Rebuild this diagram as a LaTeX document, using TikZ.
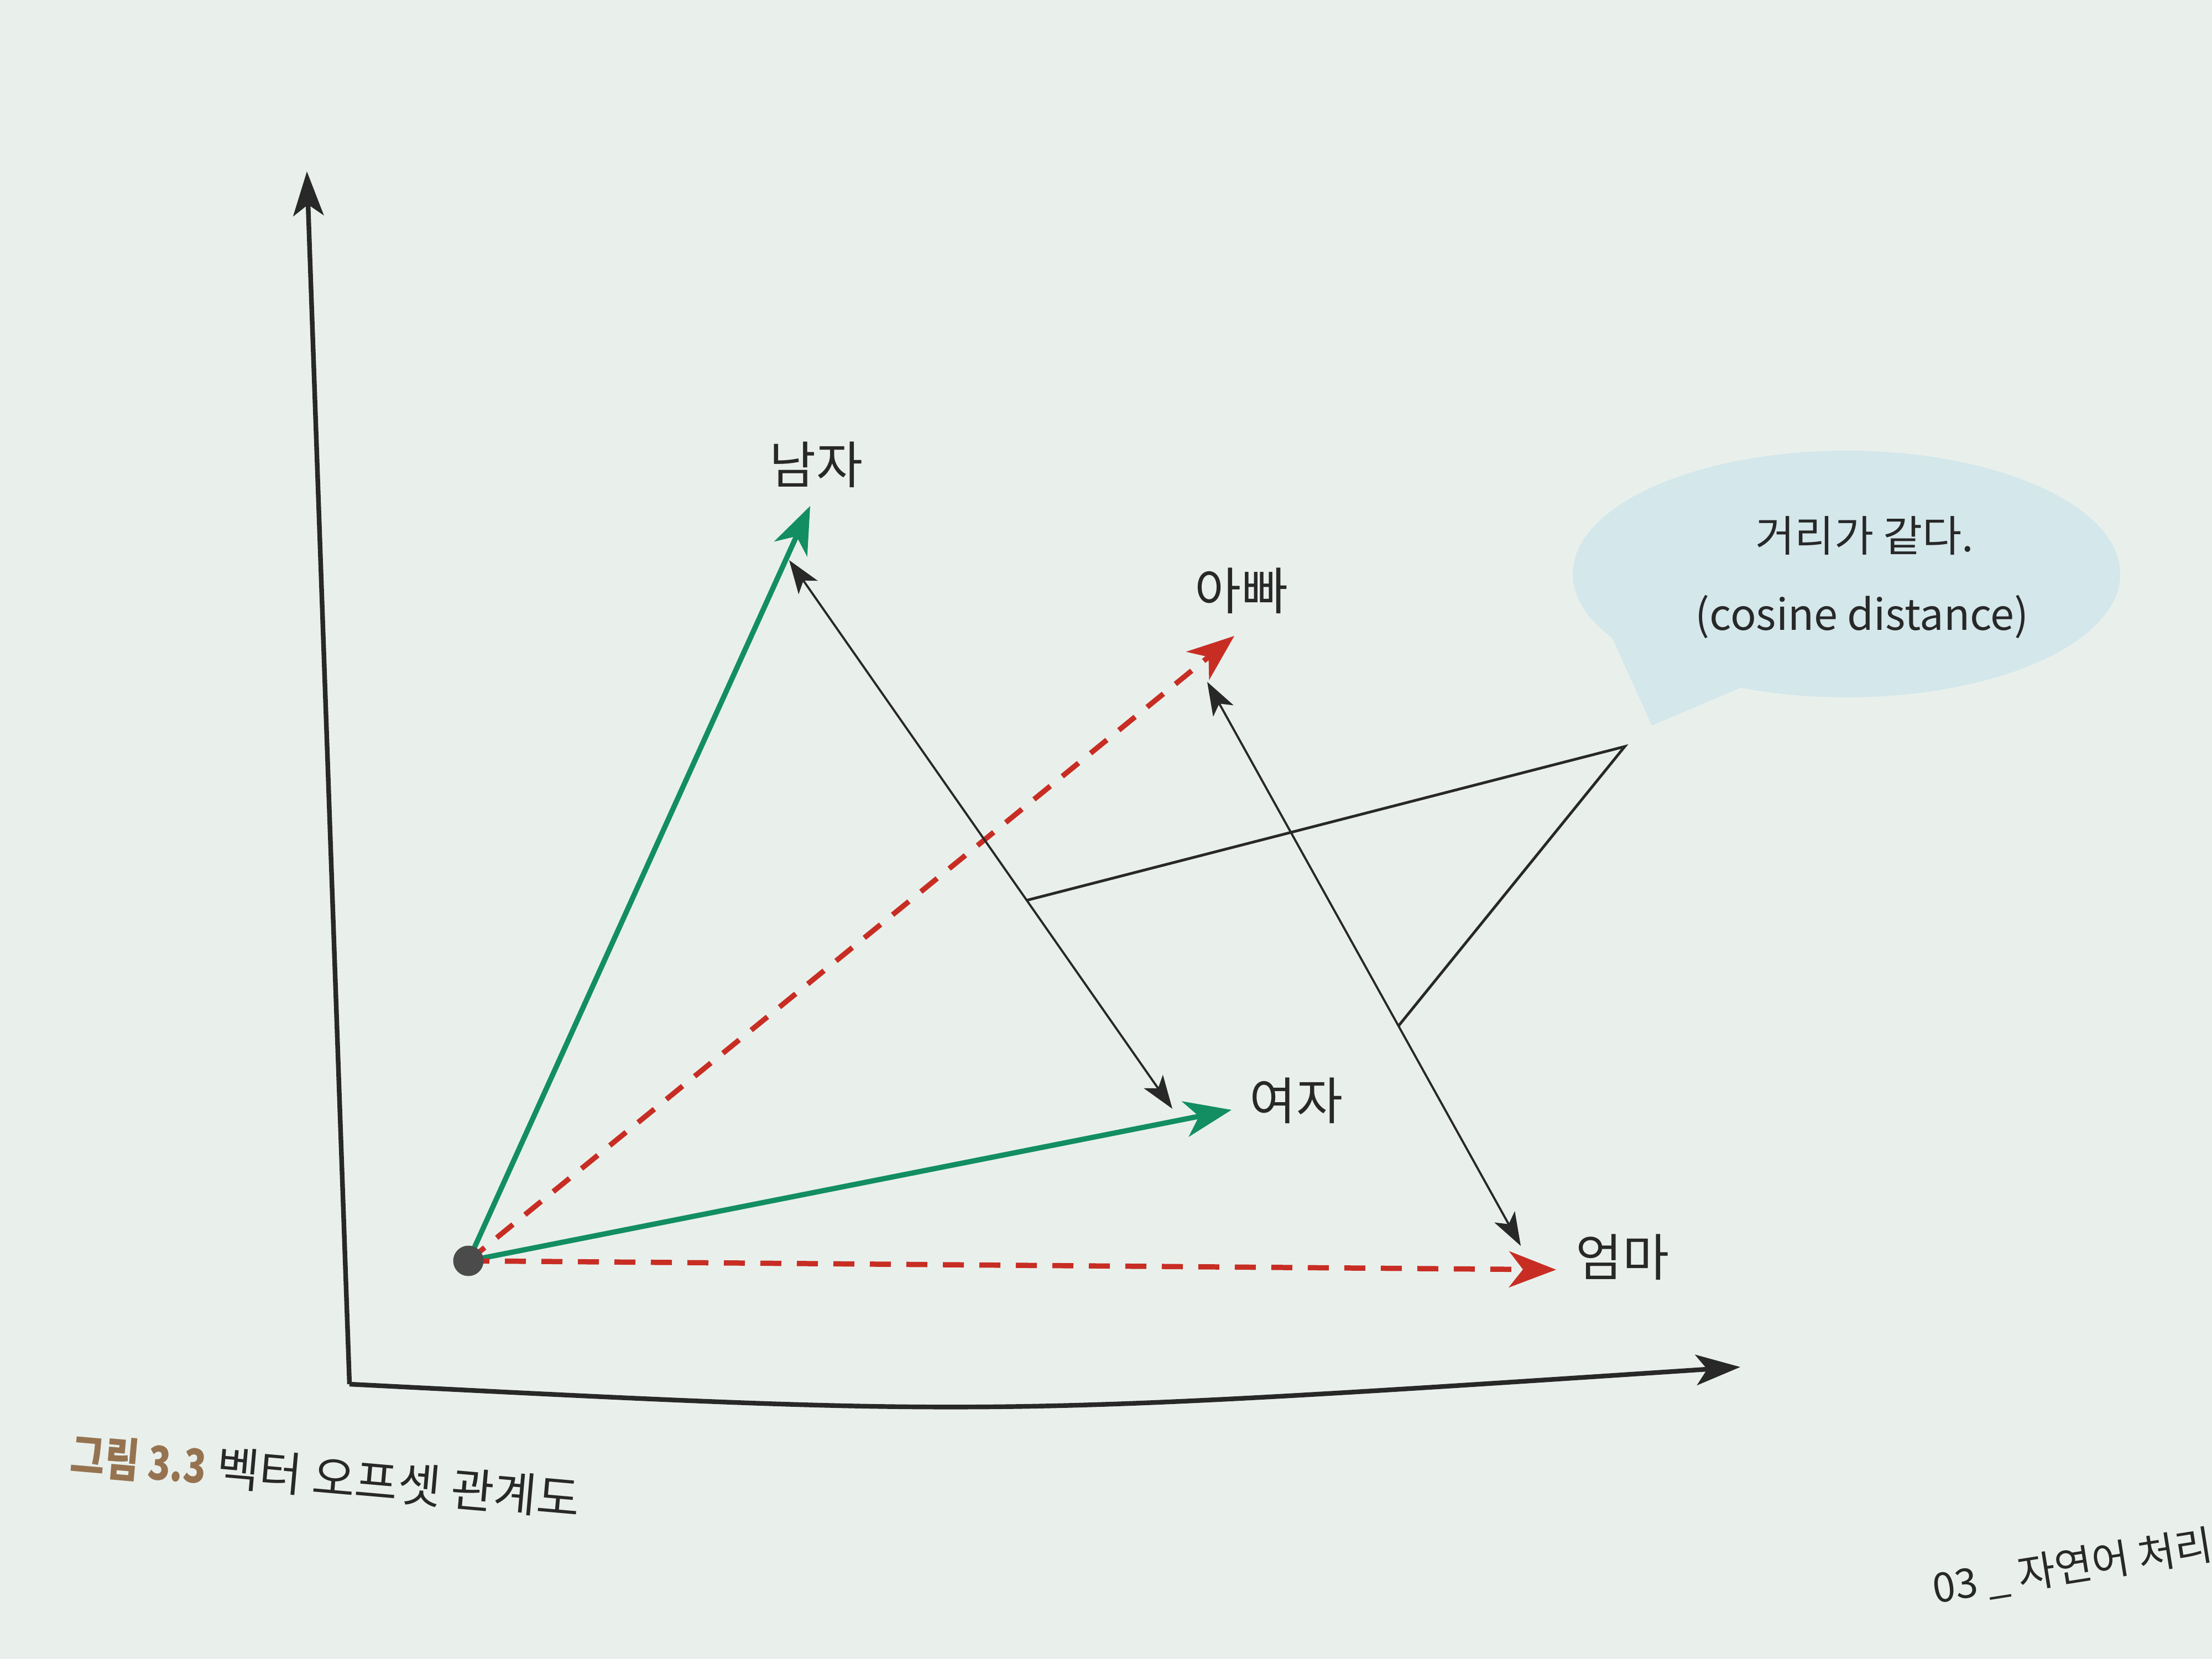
\documentclass[tikz,border=0pt]{standalone}
\usepackage{fontspec}
\usepackage{tikz}
\setmainfont{Noto Sans CJK KR}
\usetikzlibrary{arrows.meta}
\definecolor{paper}{RGB}{233, 240, 236}
\definecolor{vecgreen}{RGB}{18, 142, 98}
\definecolor{vecred}{RGB}{200, 45, 35}
\definecolor{inkgray}{RGB}{40, 40, 40}
\definecolor{bubblefill}{RGB}{212, 231, 235}
\definecolor{capbrown}{RGB}{150, 115, 80}
\definecolor{dotgray}{RGB}{75, 75, 75}

\begin{document}
\begin{tikzpicture}[x=1cm, y=-1cm,
    wordlabel/.style={font=\fontsize{26}{30}\selectfont, text=inkgray, inner sep=0},
    bubbletext/.style={font=\fontsize{22}{26}\selectfont, text=inkgray, inner sep=0},
    axisline/.style={line width=2.4pt, inkgray, -{Stealth[length=0.8cm, width=0.55cm, inset=0.2cm]}},
    vec/.style={line width=2.7pt, -{Stealth[length=0.85cm, width=0.65cm, inset=0.25cm]}},
    dashvec/.style={vec, vecred, dash pattern=on 0.38cm off 0.28cm},
    offset/.style={line width=1.1pt, inkgray, {Stealth[length=0.6cm, width=0.42cm, inset=0.15cm]}-{Stealth[length=0.6cm, width=0.42cm, inset=0.15cm]}},
    pointer/.style={line width=1.4pt, inkgray, line join=miter}]
    % Page
    \useasboundingbox (0,0) rectangle (40,30);
    \fill[paper] (0,0) rectangle (40,30);

    % X and Y axes
    \coordinate (corner) at (6.32,25.03);
    \coordinate (ytop) at (5.55,3.10);
    \coordinate (xend) at (31.47,24.72);
    \draw[axisline] (corner) -- (ytop);
    \draw[axisline] (corner) .. controls (17.88,25.62) .. (xend);

    % Vector tips
    \coordinate (o) at (8.47,22.80);
    \coordinate (man) at (14.65,9.15);
    \coordinate (woman) at (22.27,20.07);
    \coordinate (dad) at (22.32,11.50);
    \coordinate (mom) at (28.14,22.96);

    % Word vectors
    \draw[vec, vecgreen] (o) -- (man);
    \draw[vec, vecgreen] (o) -- (woman);
    \draw[dashvec] (o) -- (dad);
    \draw[dashvec] (o) -- (mom);
    \node[circle, fill=dotgray, minimum size=0.55cm, inner sep=0] (odot) at (o) {};

    % Labels
    \node[wordlabel] (manlabel) at (14.76,8.40) {남자};
    \node[wordlabel] (dadlabel) at (22.45,10.68) {아빠};
    \node[wordlabel] (womanlabel) at (23.44,19.90) {여자};
    \node[wordlabel] (momlabel) at (29.34,22.73) {엄마};

    % Offsets
    \coordinate (mantop) at (14.27,10.13);
    \coordinate (womanend) at (21.20,20.05);
    \coordinate (dadtop) at (21.83,12.33);
    \coordinate (momend) at (27.50,22.53);
    \draw[offset] (mantop) -- coordinate[pos=0.62] (p1) (womanend);
    \draw[offset] (dadtop) -- coordinate[pos=0.61] (p2) (momend);

    % Speech bubble
    \fill[bubblefill] (29.00,11.20) -- (29.87,13.12) -- (31.80,12.30) -- cycle;
    \fill[bubblefill] (33.39,10.38) ellipse [x radius=4.95, y radius=2.23];
    \node[bubbletext] (same) at (33.72,9.69) {거리가 같다.};
    \node[bubbletext] (cosine) at (33.67,11.15) {(cosine distance)};

    % Pointer from the offsets to the bubble
    \coordinate (apex) at (29.38,13.50);
    \draw[pointer] (p1) -- (apex) -- (p2);

    % Caption and page footer
    \node[rotate=-5, anchor=west, inner sep=0, font=\fontsize{24}{28}\selectfont, text=inkgray] (caption) at (1.28,26.30)
        {\scalebox{0.8}[1]{\color{capbrown}\bfseries 그림 3.3}\ 벡터 오프셋 관계도};
    \node[rotate=9, anchor=south west, inner sep=0, font=\fontsize{21}{25}\selectfont, text=inkgray] (footer) at (35.00,29.10)
        {03 \_ 자연어 처리};
\end{tikzpicture}
\end{document}
